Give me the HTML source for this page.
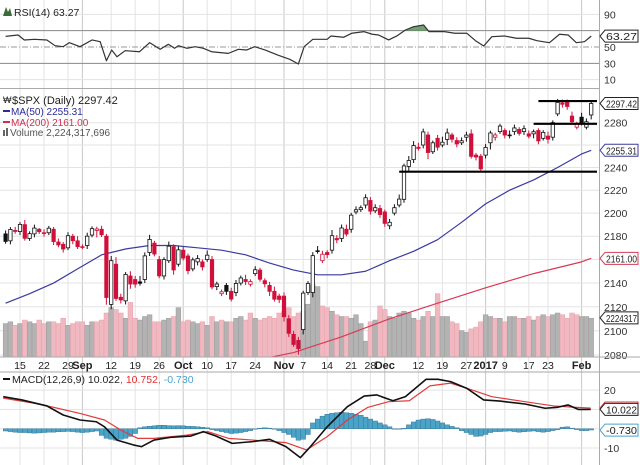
<!DOCTYPE html>
<html><head><meta charset="utf-8"><style>
html,body{margin:0;padding:0;background:#fff;}
svg{display:block;font-family:"Liberation Sans",sans-serif;}
</style></head><body>
<svg id="chart" width="640" height="465" viewBox="0 0 640 465" xmlns="http://www.w3.org/2000/svg">
<defs>
<clipPath id="cpP"><rect x="0" y="89" width="599" height="268"/></clipPath>
<clipPath id="cpR"><rect x="0" y="0" width="599" height="88"/></clipPath>
<clipPath id="cpM"><rect x="0" y="372" width="599" height="93"/></clipPath>
</defs>
<rect x="0" y="0" width="640" height="465" fill="#fff"/>
<g id="grid"></g>
<g id="rsi" clip-path="url(#cpR)"></g>
<g id="vol" clip-path="url(#cpP)"></g>
<g id="price" clip-path="url(#cpP)"></g>
<g id="macd" clip-path="url(#cpM)"></g>
<g id="axes"></g>
<text x="14" y="16" font-size="10.5" fill="#222">RSI(14) 63.27</text>
<path d="M3 16 L6 7 L8 12 L10 8 L12 16 Z" fill="#3a6b3a"/>
<text x="12" y="104" font-size="11" fill="#222">$SPX (Daily) 2297.42</text>
<text x="3" y="103" font-size="9" fill="#222">₩</text>
<line x1="3" y1="111" x2="10" y2="111" stroke="#2b2b9a" stroke-width="2"/>
<text x="11" y="115" font-size="10" fill="#2b2b9a">MA(50) 2255.31</text>
<line x1="3" y1="122" x2="10" y2="122" stroke="#d03050" stroke-width="2"/>
<text x="11" y="126" font-size="10" fill="#d03050">MA(200) 2161.00</text>
<rect x="3" y="130" width="2" height="6" fill="#666"/><rect x="6" y="128" width="2" height="8" fill="#666"/>
<text x="10" y="136" font-size="10" fill="#555">Volume 2,224,317,696</text>
<line x1="3" y1="379" x2="10" y2="379" stroke="#111" stroke-width="2"/>
<text x="12" y="383" font-size="10.5"><tspan fill="#222">MACD(12,26,9) 10.022</tspan><tspan fill="#e03030">, 10.752</tspan><tspan fill="#4aa3d0">, -0.730</tspan></text>
</svg>
<script>
// ---- data ----
const closes=[2175.5,2185.8,2184.1,2190.2,2178.2,2182.2,2187.0,2183.9,2182.6,2186.9,2175.4,2172.5,2169.0,2180.4,2176.1,2171.0,
2170.9,2180.0,2186.5,2186.2,2181.3,2127.8,2159.0,2127.0,2125.8,2147.3,2139.2,2139.1,2139.8,2163.1,2177.2,2164.7,2146.1,2159.9,2171.4,2151.1,2168.3,
2161.2,2150.5,2159.7,2160.8,2153.7,2163.7,2136.7,2139.2,2132.6,2133.0,2126.5,2139.6,2144.3,2141.3,2141.2,2151.3,2143.2,2139.4,2133.0,2126.4,2126.2,
2111.7,2097.9,2088.7,2085.2,2131.5,2139.6,2163.3,2167.5,2164.5,2164.2,2180.4,2176.9,2187.1,2181.9,2198.2,2202.9,2204.7,2213.4,2201.7,2204.7,2198.8,
2191.1,2192.0,2204.7,2212.2,2241.4,2246.2,2259.5,2257.0,2271.7,2253.3,2262.0,2258.1,2262.5,2270.8,2265.2,2261.0,2263.8,2268.9,2249.9,2249.3,2238.8,
2257.8,2270.8,2269.0,2277.0,2268.9,2268.9,2275.3,2270.4,2274.6,2267.9,2271.9,2263.7,2271.3,2265.2,2280.1,2298.4,2296.7,2294.7,2280.9,2278.9,
2279.6,2280.9,2297.4];
const opens=[2182,2176,2185,2184,2190,2178,2182,2186,2183,2183,2186,2175,2173,2170,2180,2176,2171,2172,2181,2185,2186,2180,2122,2156,2128,2125,2146,2143,2141,2143,
2166,2174,2160,2146,2159,2171,2156,2168,2163,2152,2158,2158,2160,2160,2137,2131,2138,2133,2132,2140,2143,2139,2148,2151,2142,2138,2133,2129,2129,2110,
2097,2092,2101,2132,2132,2167,2159,2166,2168,2178,2178,2186,2186,2201,2203,2207,2211,2202,2204,2201,2189,2200,2207,2212,2241,2247,2258,2260,2269,2254,
2266,2260,2265,2269,2264,2262,2267,2270,2251,2250,2251,2262,2267,2272,2273,2269,2272,2274,2272,2270,2270,2273,2266,2268,2267,2288,2298,2299,2286,2276,
2285,2276,2287];
const wickUp="3232423132232324232232463243534232423322324322233242322342333322343253342323333233424443323542333422322224323322242332424 33".replace(/ /g,'');
const wickDn="2323223232323232232626423343233223242232332232323232223423432542422333323223323332234323623253324232363233323243243233222 24".replace(/ /g,'');
const volumes=[1.9,2.0,1.8,1.9,2.1,2.0,1.9,2.1,1.9,2.0,2.0,1.9,2.2,1.8,1.9,2.0,
2.0,1.8,2.0,2.0,2.1,2.5,2.8,2.7,2.5,2.2,3.1,2.2,2.1,2.3,2.4,2.0,2.0,2.1,2.2,2.3,2.8,
2.0,2.1,2.0,1.9,2.0,1.8,2.3,2.0,2.1,2.0,2.0,2.2,2.3,2.1,2.5,2.2,2.1,2.2,2.3,2.2,2.5,
2.6,2.8,2.3,2.5,2.6,3.0,4.1,4.0,2.9,2.8,2.6,2.4,2.3,2.3,2.2,2.4,1.9,0.9,2.0,2.1,2.9,
2.7,2.3,2.2,2.5,2.6,2.5,2.2,2.1,2.3,2.6,2.3,3.6,2.3,2.3,2.0,1.9,1.5,1.4,1.6,1.7,2.0,
2.4,2.3,2.2,2.2,2.0,2.3,2.3,2.2,2.2,2.3,2.1,2.3,2.4,2.3,2.4,2.5,2.4,2.2,2.5,2.4,
2.3,2.3,2.2];
const ma50Idx=[0,5,10,15,20,25,30,35,40,45,50,55,60,65,70,75,80,85,90,95,100,105,110,115,120,122];
const ma50Val=[2123,2131,2140,2152,2164,2169,2172,2172,2170,2168,2164,2157,2151,2147,2147,2150,2159,2167,2177,2192,2208,2220,2229,2240,2252,2255.3];
const ma200Idx=[40,50,60,70,80,90,100,110,120,122];
const ma200Val=[2068,2074,2082,2095,2110,2123,2136,2148,2158,2161];
const rsiIdx=[0,2.6,3.9,6,8.6,10.3,12,13.3,15.5,18,19.7,21,22.1,23.2,24.9,27.9,30,32.2,33.9,35.2,36,37.8,39.5,41.2,42.9,46.4,48.5,50.2,51.9,54.1,56.7,59.2,61,62.2,64,67,67.8,70.4,72.1,74.7,76.4,77.7,79.8,81.5,83.3,85,87.1,88.2,91.4,93.6,96.1,97.9,99.6,101.3,103.9,106.4,109,110.7,113.3,115.4,117.2,118.9,120.6,122];
const rsiVal=[63,64.7,58.6,59.4,58.6,51.6,50.4,55.3,50.4,58.6,56.5,33.2,46.3,38.1,45.5,44.2,55.3,47.2,53.3,48.4,51.6,48.4,50.4,48.4,44.2,42.2,47.2,46.3,50.4,46.3,40.2,34.9,29.2,50.4,59.4,59.4,63.5,61.9,66.8,68.8,65.6,64.7,58.6,63.5,70.8,74.9,76.9,68.8,68.8,66.8,66.8,57.7,51.2,62.6,63.5,60.7,60.7,57.7,55.3,65.6,64.7,55.3,56.5,63.3];
const macdIdx=[-0.5,3.4,8.6,12,15.5,18.9,20.6,23.2,26.6,28.3,30.9,34.3,38.6,41.2,43.8,47.2,51.5,55,58.4,61.4,63.5,67,71.2,74.7,77.3,80.7,83.3,87.6,90.1,92.7,96.1,99.6,103,108.2,112.4,115,117.2,119.3,121.9];
const macdVal=[16.6,14.9,11.8,7.1,4.5,3.6,1,-5.9,-8.4,-9.3,-5.9,-4.5,-3.8,-1.5,-3.8,-7.6,-6.7,-5.5,-9.3,-15,-9.3,1,11.4,16.9,17.5,14.5,16.6,25.6,25.6,24.4,20.9,14.9,14.3,12.8,10.6,11.1,12.3,10,10];
const sigIdx=[-0.5,7,15.5,20.6,24,27.5,30.9,37.8,42.1,46.4,51.5,58.4,62.7,67,71.2,75.5,79.8,84.1,88.4,92.7,97,101.3,108.2,114.2,118.5,121.9];
const sigVal=[15.8,12.8,7.9,4.5,-0.7,-5,-5,-3.3,-1.5,-5,-5.9,-7.2,-11,-4.1,4.5,11.1,14,14.5,22.2,23.6,20.2,16.6,14,11.8,11.1,10.7];
const hist=[-1.2,-1.5,-1.8,-2,-2,-2.2,-2.3,-2.2,-2,-1.8,
-1.8,-1.6,-1.5,-1.4,-1.5,-1.8,-2,-1.8,-1.5,-1.2,
-3.5,-5,-5.5,-6,-5.5,-5,-4,-2.5,
0.5,1,1.3,1.5,1.8,1.8,1.6,1.5,1.6,1.5,1.3,1.2,1,0.8,0.5,
-0.5,-1,-1.5,-2,-2.5,-2.3,-2,-1.5,-1,
0,0.3,0.5,0.3,0,
-1,-2,-3,-4.5,-6,-5.5,-3,
3,5,6.5,7.5,8,8.3,8.5,8.3,8,7.5,7,6,5,4,3,2,1,
0,0,0.2,
2,3.5,4.5,5,5.2,4.8,4,3,2,1.2,0.5,
-1,-2,-3,-4,-3.8,-3,-2,
-1.5,-1.5,-1.3,-1.2,-1.5,-1.8,-1.6,-1.4,-1.2,-1.5,-1.8,-1.5,-1,-0.5,0.8,1,0.3,-0.5,-1,-1,-0.7];
const dateLabels=["15","22","29","Sep","12","19","26","Oct","10","17","24","Nov","7","14","21","28","Dec","12","19","27","2017","9","17","23","Feb"];
const dateIdx=[3,8,13,16,22,27,32,37,42,47,52,58,62,67,72,76,79,86,91,96,100,104,109,113,120];
const priceTicks=[2080,2100,2120,2140,2160,2180,2200,2220,2240,2260,2280];
const rsiTicks=[10,30,50,70,90];
const macdTicks=[20,-10];
const srLevels=[2236.3,2279,2299.6];
const srStart=[82,110,111];

// ---- scales ----
const NS="http://www.w3.org/2000/svg";
const X=i=>5.6+i*4.8;
const YP=p=>355-2530*Math.log(p/2080);
const YV=v=>357-v*17.6;
const YR=v=>47-(v-50)*0.817;
const YM=v=>428.7-v*1.93;
function mk(t,a,p){const e=document.createElementNS(NS,t);for(const k in a)e.setAttribute(k,a[k]);p.appendChild(e);return e;}
const G=id=>document.getElementById(id);
const grid=G('grid'),axes=G('axes'),price=G('price'),vol=G('vol'),rsi=G('rsi'),macd=G('macd');

const months=["Sep","Oct","Nov","Dec","2017","Feb"];
dateIdx.forEach((d,k)=>{
  const x=X(d);
  const isM=months.includes(dateLabels[k]);
  const l=mk('line',{x1:x,x2:x,y1:0,y2:465,stroke:isM?'#c8c8c8':'#e3e3e3','stroke-width':1},grid);
  
  
  const t=mk('text',{x:x,y:369,'font-size':isM?11:10.5,'text-anchor':'middle',fill:'#222','font-weight':isM?'bold':'normal'},axes);
  t.textContent=dateLabels[k];
  
  
});
priceTicks.forEach(p=>{
  const y=YP(p);
  const l=mk('line',{x1:0,x2:599,y1:y,y2:y,stroke:'#e3e3e3'},grid);
  
  
  if(p!==2160&&p!==2260){
  const t=mk('text',{x:604,y:y+4,'font-size':10.5,fill:'#333'},axes);
  t.textContent=p;
  
  }
});
rsiTicks.forEach(v=>{
  const y=YR(v);
  const l=mk('line',{x1:0,x2:599,y1:y,y2:y,stroke:(v===70||v===30)?'#888':(v===50?'#999':'#e3e3e3'),'stroke-dasharray':v===50?'6,2,1,2':'none'},grid);
  
  
  if(v!==70){
  const t=mk('text',{x:604,y:y+4,'font-size':10.5,fill:'#333'},axes);
  t.textContent=v;
  
  }
});
[20,10,0,-10].forEach(v=>{
  const l=mk('line',{x1:0,x2:599,y1:YM(v),y2:YM(v),stroke:'#e3e3e3'},grid);
  
  
});
macdTicks.forEach(v=>{
  const t=mk('text',{x:604,y:YM(v)+4,'font-size':10.5,fill:'#333'},axes);
  t.textContent=v;
  
  
});
[[0,88.5,599,88.5],[0,357,640,357],[0,372,640,372],[599.5,0,599.5,465]].forEach(c=>{
  const l=mk('line',{x1:c[0],y1:c[1],x2:c[2],y2:c[3],stroke:'#aaa'},axes);
  
  
});

volumes.forEach((v,i)=>{
  const up=i===0||closes[i]>=closes[i-1];
  const r=mk('rect',{x:X(i)-2.4,y:YV(v),width:4.8,height:357-YV(v),fill:up?'#b3b3b3':'#f0b9c1',stroke:up?'#9a9a9a':'#e7a0aa','stroke-width':0.5},vol);
  
  
});
function poly(idx,val,fx,fy,col,w,par,name){
  const pts=idx.map((d,k)=>fx(d)+','+fy(val[k])).join(' ');
  const p=mk('polyline',{points:pts,fill:'none',stroke:col,'stroke-width':w,'stroke-linejoin':'round'},par);
  
  
  return p;
}
poly(ma200Idx,ma200Val,X,YP,'#d83a55',1.2,price,'ma200-line');
poly(ma50Idx,ma50Val,X,YP,'#3a3aa0',1.2,price,'ma50-line');
closes.forEach((c,i)=>{
  const o=opens[i];
  const red=i>0&&c<closes[i-1];
  const col=red?'#d0103a':'#111';
  const hi=Math.max(o,c)+(+wickUp[i]||2), lo=Math.min(o,c)-(+wickDn[i]||2);
  const x=X(i);
  const g=mk('g',{},price);
  
  
  mk('line',{x1:x,x2:x,y1:YP(hi),y2:YP(lo),stroke:col,'stroke-width':1},g);
  const top=YP(Math.max(o,c)),bot=YP(Math.min(o,c));
  mk('rect',{x:x-1.7,y:top,width:3.4,height:Math.max(bot-top,0.8),fill:c>o?'#fff':col,stroke:col,'stroke-width':0.8},g);
});
srLevels.forEach((p,k)=>{
  const l=mk('line',{x1:X(srStart[k]),x2:597,y1:YP(p),y2:YP(p),stroke:'#000','stroke-width':2.2},price);
  
  
});
(function(){
  const pts=rsiIdx.map((d,k)=>[Math.max(X(d),0),YR(rsiVal[k])]);
  let d='M'+X(83.3)+','+YR(70);
  pts.forEach(p=>{ if(p[0]>=X(82.8)&&p[0]<=X(88)) d+=' L'+p[0]+','+p[1];});
  d+=' L'+X(88)+','+YR(70)+' Z';
  const f=mk('path',{d:d,fill:'#4f8a4f',opacity:0.8},rsi);
  
  
  poly(rsiIdx,rsiVal,d2=>Math.max(X(d2),0),YR,'#333',1.2,rsi,'rsi-line');
})();
hist.forEach((h,i)=>{
  const y0=YM(0),y1=YM(h);
  const r=mk('rect',{x:X(i)-2.4,y:Math.min(y0,y1),width:4.8,height:Math.max(Math.abs(y1-y0),0.6),fill:'#4aa3c8',stroke:'#2f6f8f','stroke-width':0.4},macd);
  
  
});
poly(sigIdx,sigVal,X,YM,'#e23b3b',1.2,macd,'macd-signal-line');
poly(macdIdx,macdVal,X,YM,'#111',1.6,macd,'macd-line');

function tag(y,txt,col,name){
  const g=mk('g',{},axes);
  
  
  mk('path',{d:`M600 ${y} L605 ${y-6} L638 ${y-6} L638 ${y+6} L605 ${y+6} Z`,fill:'#fff',stroke:col,'stroke-width':1},g);
  const t=mk('text',{x:606,y:y+4,'font-size':10,fill:'#222',textLength:31,lengthAdjust:'spacingAndGlyphs'},g);
  t.textContent=txt;
}
tag(YR(63.27),'63.27','#222','rsi-value-tag');
tag(YP(2297.42),'2297.42','#222','price-value-tag');
tag(YP(2255.31),'2255.31','#3a3aa0','ma50-value-tag');
tag(YP(2161),'2161.00','#d83a55','ma200-value-tag');
tag(YV(2.224),'2224317','#222','volume-value-tag');
tag(YM(10.752),'10.752','#e23b3b','signal-value-tag');
tag(YM(10.022),'10.022','#222','macd-value-tag');
tag(YM(-0.73),'-0.730','#4aa3c8','histogram-value-tag');
</script>
</body></html>
